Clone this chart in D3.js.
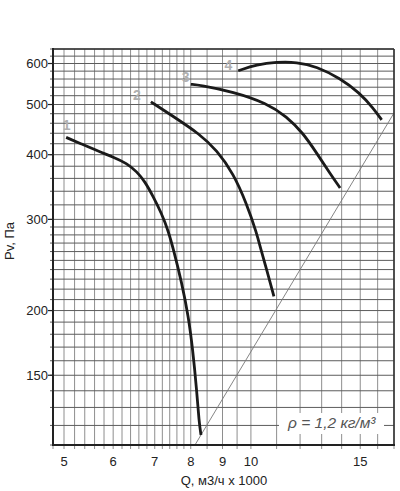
<!DOCTYPE html>
<html><head><meta charset="utf-8">
<script src="https://cdn.jsdelivr.net/npm/d3@7"></script>
<style>
html,body{margin:0;padding:0;background:#fff;}
svg{display:block;font-family:"Liberation Sans",Arial,sans-serif;}
</style></head>
<body>
<svg id="c" width="400" height="491"></svg>
<script>
// ---- data ----
const curve1 = [[5.04,432],[5.30,421],[5.71,405],[6.0,396],[6.31,385],[6.55,371],[6.75,355],[6.96,332],[7.18,308],[7.36,285],[7.50,263],[7.74,226],[7.93,195],[8.06,168],[8.18,140],[8.25,122],[8.31,115]];
const curve2 = [[6.90,506],[7.50,474],[8.28,438],[8.81,408],[9.37,368],[9.84,322],[10.22,282],[10.38,262],[10.60,240],[10.89,213]];
const curve3 = [[8.0,547],[8.28,545],[9.37,529],[10.6,503],[11.42,474],[12.14,440],[12.76,403],[13.41,368],[13.92,345]];
const curve4 = [[9.54,581],[10.22,597],[11.0,604],[11.85,604],[12.76,592],[13.92,562],[14.98,526],[15.74,492],[16.24,467]];
const curveNames = ["1","2","3","4"];
const labelPos = [[5.05,457],[6.55,522],[7.85,566],[9.2,597]];
const systemLine = [[8.126,110],[17,481.6]];
const xTicks = [5,6,7,8,9,10,15];
const yTicks = [150,200,300,400,500,600];
const xGrid = [4.8,5,5.2,5.4,5.6,5.8,6,6.2,6.4,6.6,6.8,7,7.2,7.4,7.6,7.8,8,8.5,9,9.5,10,11,12,13,14,15,16,17];
const yGrid = [110,120,130,140,150,160,170,180,190,200,210,220,230,240,250,260,270,280,290,300,320,340,360,380,400,420,440,460,480,500,520,540,560,580,600,620,640];
const densityText = "ρ = 1,2 кг/м³";

// ---- layout ----
const L = 53, R = 394, T = 49, B = 445;
const x = d3.scaleLog().domain([4.8,17]).range([L,R]);
const y = d3.scaleLog().domain([110,640]).range([B,T]);
const svg = d3.select("#c");

// grid
svg.append("g").selectAll("line").data(xGrid).join("line")
  .attr("x1",d=>x(d)).attr("x2",d=>x(d)).attr("y1",T).attr("y2",B+4)
  .attr("stroke","#8e8e8e").attr("stroke-width",1);
svg.append("g").selectAll("line").data(yGrid).join("line")
  .attr("x1",L-3).attr("x2",R).attr("y1",d=>y(d)).attr("y2",d=>y(d))
  .attr("stroke","#5c5c5c").attr("stroke-width",1);

// system line
const lineGen = d3.line().x(d=>x(d[0])).y(d=>y(d[1]));
svg.append("path").attr("d",lineGen(systemLine)).attr("fill","none")
  .attr("stroke","#777").attr("stroke-width",0.9);

// white box for density label
svg.append("rect").attr("x",279).attr("y",413).attr("width",105).attr("height",21).attr("fill","#fff");
svg.append("text").attr("x",288).attr("y",428).attr("font-size",15.5).attr("font-style","italic")
  .attr("fill","#555").text(densityText);

// frame
svg.append("line").attr("x1",L).attr("x2",R).attr("y1",T).attr("y2",T).attr("stroke","#333").attr("stroke-width",1.6);
svg.append("line").attr("x1",R).attr("x2",R).attr("y1",T).attr("y2",B).attr("stroke","#333").attr("stroke-width",1.6);
svg.append("line").attr("x1",L).attr("x2",L).attr("y1",T-1).attr("y2",B+1).attr("stroke","#222").attr("stroke-width",2);
svg.append("line").attr("x1",L-1).attr("x2",R+1).attr("y1",B).attr("y2",B).attr("stroke","#222").attr("stroke-width",2);

// major ticks
svg.append("g").selectAll("line").data(yTicks).join("line")
  .attr("x1",L-5).attr("x2",L).attr("y1",d=>y(d)).attr("y2",d=>y(d))
  .attr("stroke","#222").attr("stroke-width",1.2);

// tick labels
svg.append("g").selectAll("text").data(yTicks).join("text")
  .attr("x",L-5).attr("y",d=>y(d)).attr("dy","0.36em").attr("text-anchor","end")
  .attr("font-size",13).attr("fill","#222").text(d=>d);
svg.append("g").selectAll("text").data(xTicks).join("text")
  .attr("x",d=>x(d)).attr("y",466).attr("text-anchor","middle")
  .attr("font-size",13).attr("fill","#222").text(d=>d);

// axis titles
svg.append("text").attr("x",224).attr("y",485).attr("text-anchor","middle")
  .attr("font-size",13).attr("fill","#222").text("Q, м3/ч x 1000");
svg.append("text").attr("transform","translate(14,241) rotate(-90)").attr("text-anchor","middle")
  .attr("font-size",13).attr("fill","#222").text("Pv, Па");

// curves
const smooth = d3.line().x(d=>x(d[0])).y(d=>y(d[1])).curve(d3.curveBasis);
svg.append("g").selectAll("path").data([curve1,curve2,curve3,curve4]).join("path")
  .attr("d",smooth).attr("fill","none").attr("stroke","#1a1a1a").attr("stroke-width",2.8)
  .attr("stroke-linecap","butt");

// curve labels
svg.append("g").selectAll("text").data(curveNames).join("text")
  .attr("x",(d,i)=>x(labelPos[i][0])).attr("y",(d,i)=>y(labelPos[i][1]))
  .attr("text-anchor","middle").attr("dy","0.35em")
  .attr("font-size",14).attr("font-weight","bold").attr("fill","#b0b0b0").text(d=>d);
</script>
</body></html>
